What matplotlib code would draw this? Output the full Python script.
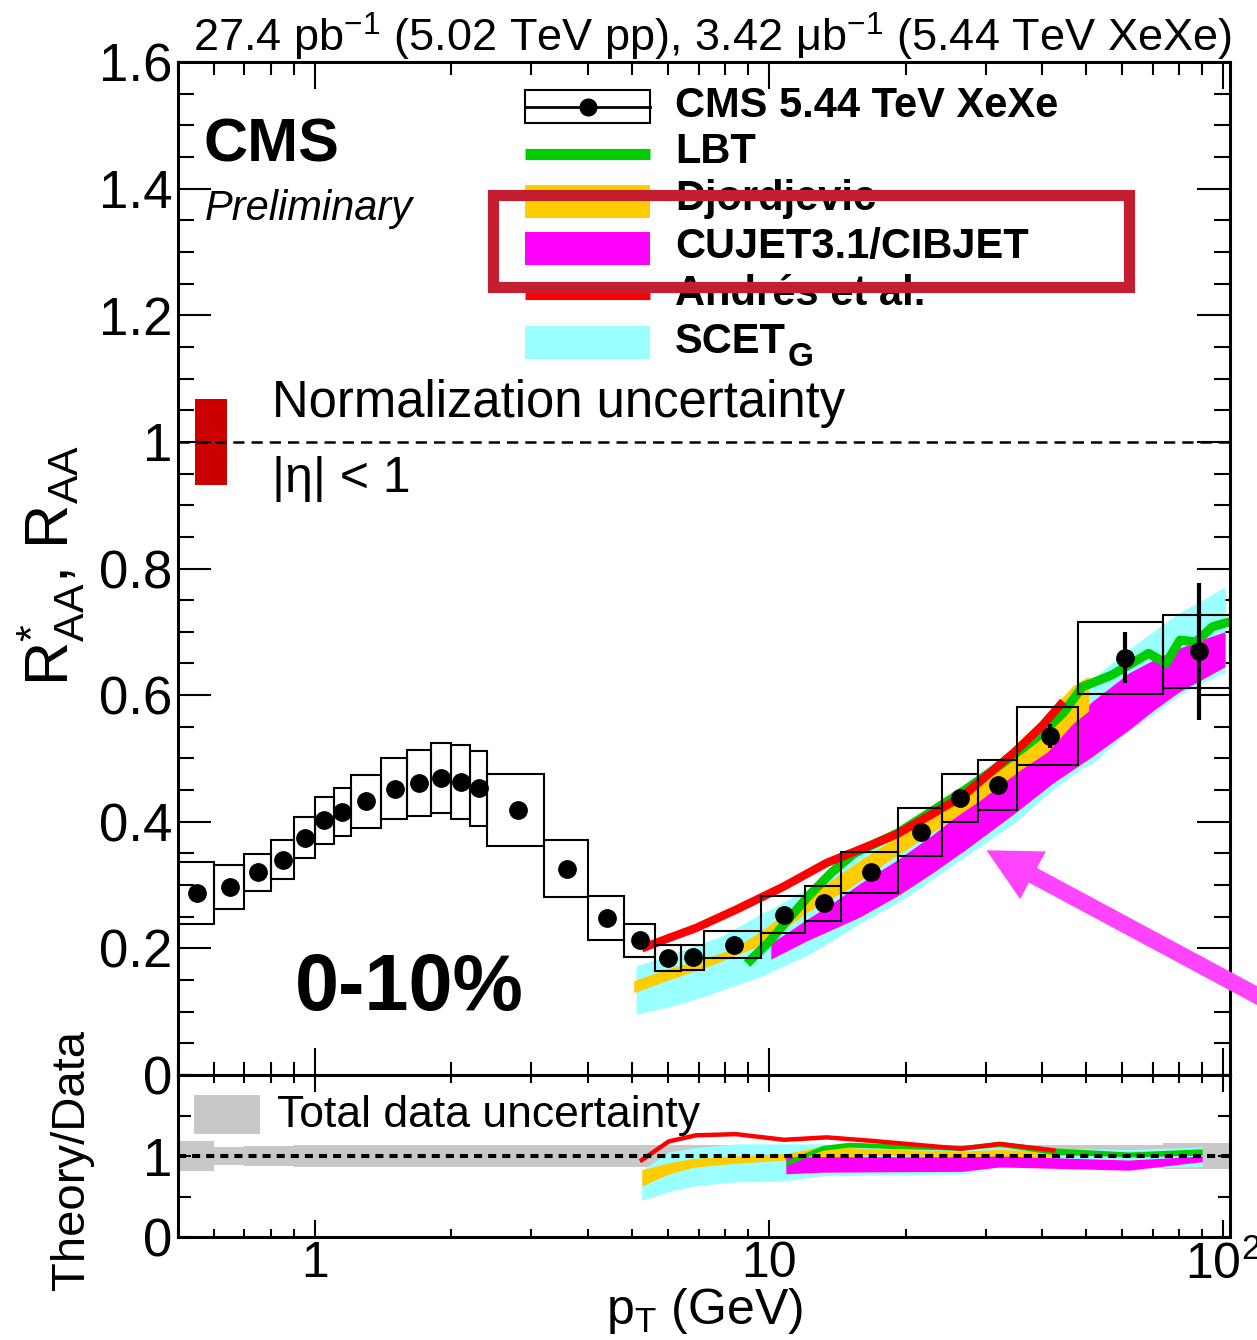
import matplotlib
matplotlib.use("Agg")
import matplotlib.pyplot as plt
from matplotlib.patches import Rectangle, FancyArrowPatch
from matplotlib.lines import Line2D
from matplotlib.ticker import FixedLocator, FixedFormatter, LogLocator, NullFormatter, MultipleLocator

plt.rcParams['font.family'] = ['Liberation Sans', 'DejaVu Sans']
plt.rcParams['mathtext.fontset'] = 'custom'
plt.rcParams['mathtext.rm'] = 'Liberation Sans'
plt.rcParams['mathtext.it'] = 'Liberation Sans:italic'
plt.rcParams['mathtext.bf'] = 'Liberation Sans:bold'

W, H = 1257, 1340

# ---- CMS XeXe 0-10% data ----
pt_edges = [0.5, 0.6, 0.7, 0.8, 0.9, 1.0, 1.1, 1.2, 1.4, 1.6, 1.8, 2.0, 2.2, 2.4, 3.2,
            4.0, 4.8, 5.6, 6.4, 7.2, 9.6, 12.0, 14.4, 19.2, 24.0, 28.8, 35.2, 48.0, 73.6, 103.6]
raa = [0.287, 0.297, 0.320, 0.340, 0.375, 0.402, 0.415, 0.432, 0.452, 0.461, 0.469, 0.463,
       0.453, 0.419, 0.326, 0.248, 0.213, 0.185, 0.186, 0.206, 0.253, 0.271, 0.320, 0.384,
       0.437, 0.458, 0.536, 0.659, 0.669]
syst = [0.049, 0.035, 0.029, 0.031, 0.033, 0.037, 0.038, 0.042, 0.048, 0.052, 0.055, 0.058,
        0.059, 0.057, 0.045, 0.034, 0.026, 0.021, 0.020, 0.021, 0.029, 0.027, 0.032, 0.038,
        0.038, 0.040, 0.046, 0.057, 0.058]
stat = [0.002] * 26 + [0.019, 0.040, 0.108]
tot_unc = [0.18, 0.115, 0.12, 0.125, 0.13, 0.13, 0.13, 0.135, 0.135, 0.14, 0.14, 0.14, 0.14,
           0.14, 0.14, 0.14, 0.14, 0.14, 0.14, 0.14, 0.14, 0.14, 0.14, 0.14, 0.14, 0.14, 0.14,
           0.14, 0.155]
norm_unc = 0.068

# ---- theory, main panel ----
lbt_pt = [8.95, 10.0, 12.2, 13.7, 15.4, 19.2, 23.0, 27.0, 31.0, 35.3, 40.0, 44.5, 49.0,
          57.0, 68.6, 74.9, 80.4, 87.1, 94.8, 103.6]
lbt_r = [0.176, 0.210, 0.282, 0.319, 0.350, 0.382, 0.418, 0.450, 0.480, 0.510, 0.540, 0.572,
         0.613, 0.632, 0.666, 0.650, 0.687, 0.684, 0.708, 0.716]

dj_pt = [5.04, 6.0, 7.2, 8.4, 9.8, 12.2, 15.2, 18.5, 22.8, 29.2, 35.8, 41.0, 46.7, 50.6]
dj_lo = [0.130, 0.150, 0.169, 0.188, 0.208, 0.258, 0.297, 0.340, 0.382, 0.434, 0.482, 0.510, 0.555, 0.575]
dj_hi = [0.149, 0.168, 0.184, 0.200, 0.232, 0.282, 0.330, 0.370, 0.410, 0.470, 0.530, 0.570, 0.615, 0.630]

cu_pt = [10.1, 12.2, 13.7, 15.9, 19.2, 23.0, 27.0, 35.0, 42.0, 51.5, 62.0, 70.0, 80.0, 90.0, 101.0]
cu_lo = [0.183, 0.213, 0.229, 0.250, 0.283, 0.320, 0.355, 0.415, 0.460, 0.503, 0.545, 0.575, 0.605, 0.625, 0.645]
cu_hi = [0.208, 0.247, 0.270, 0.303, 0.340, 0.380, 0.420, 0.480, 0.530, 0.590, 0.635, 0.655, 0.674, 0.688, 0.700]

an_pt = [5.25, 6.0, 6.9, 8.46, 10.8, 13.4, 16.6, 19.2, 23.0, 27.0, 31.0, 35.0, 40.0, 44.5]
an_r = [0.200, 0.216, 0.232, 0.261, 0.298, 0.335, 0.362, 0.381, 0.413, 0.443, 0.480, 0.512, 0.552, 0.590]

sc_pt = [5.1, 6.06, 7.2, 7.8, 9.8, 10.1, 12.2, 13.7, 15.9, 20.0, 27.0, 35.0, 42.0, 49.0,
         51.5, 60.0, 70.0, 80.0, 90.0, 101.0]
sc_lo = [0.096, 0.108, 0.124, 0.133, 0.158, 0.163, 0.190, 0.211, 0.240, 0.280, 0.345, 0.400,
         0.450, 0.485, 0.492, 0.535, 0.570, 0.600, 0.620, 0.635]
sc_hi = [0.172, 0.190, 0.210, 0.218, 0.258, 0.262, 0.295, 0.320, 0.350, 0.390, 0.460, 0.520,
         0.570, 0.613, 0.625, 0.665, 0.700, 0.730, 0.750, 0.771]

# ---- theory / data ratios ----
an_rat_pt = [5.25, 6.02, 6.9, 8.46, 10.8, 13.4, 16.6, 21.0, 26.5, 32.2, 42.3]
an_rat = [0.95, 1.18, 1.255, 1.27, 1.20, 1.23, 1.19, 1.14, 1.09, 1.15, 1.07]

lbt_rat_pt = [10.9, 13.1, 15.0, 19.4, 26.5, 32.2, 42.3, 62.0, 75.0, 90.0]
lbt_rat_lo = [0.88, 1.07, 1.11, 1.09, 1.07, 1.12, 1.02, 0.99, 1.00, 1.01]
lbt_rat_hi = [0.94, 1.13, 1.17, 1.15, 1.13, 1.18, 1.10, 1.05, 1.07, 1.09]

dj_rat_pt = [5.25, 6.0, 6.8, 8.4, 10.9, 13.1, 16.9, 26.5, 32.2, 42.3]
dj_rat_lo = [0.63, 0.775, 0.86, 0.91, 0.95, 0.97, 1.01, 0.99, 0.99, 0.99]
dj_rat_hi = [0.83, 0.915, 0.97, 1.00, 1.03, 1.12, 1.09, 1.06, 1.08, 1.06]

cu_rat_pt = [10.9, 13.1, 26.5, 32.2, 62.0, 90.0]
cu_rat_lo = [0.78, 0.80, 0.81, 0.865, 0.825, 0.93]
cu_rat_hi = [0.99, 0.99, 0.99, 1.00, 0.95, 1.00]

sc_rat_pt = [5.25, 6.02, 6.8, 8.46, 10.8, 13.1, 26.5, 32.2, 62.0, 90.0]
sc_rat_lo = [0.455, 0.56, 0.63, 0.68, 0.69, 0.755, 0.78, 0.865, 0.85, 0.87]
sc_rat_hi = [0.82, 1.05, 1.10, 1.15, 1.15, 1.15, 1.10, 1.10, 1.08, 1.11]

c_green = '#00cc00'
c_orange = '#ffcc00'
c_mag = '#ff00ff'
c_red = '#ff0000'
c_cyan = '#99ffff'


def fx(px):
    return px / W


def fy(py):
    return 1 - py / H


fig = plt.figure(figsize=(W / 100, H / 100), dpi=100)
ax = fig.add_axes([fx(178), fy(1075), (1230 - 178) / W, (1075 - 62) / H])
ax2 = fig.add_axes([fx(178), fy(1237), (1230 - 178) / W, (1237 - 1075) / H])

pt_mid = [(a + b) / 2 for a, b in zip(pt_edges[:-1], pt_edges[1:])]

# main panel
ax.fill_between(sc_pt, sc_lo, sc_hi, color=c_cyan, lw=0, zorder=2)
ax.fill_between(cu_pt, cu_lo, cu_hi, color=c_mag, lw=0, zorder=2.1)
ax.fill_between(dj_pt, dj_lo, dj_hi, color=c_orange, lw=0, zorder=2.2)
ax.plot(lbt_pt, lbt_r, color=c_green, lw=6.5, zorder=2.3, solid_capstyle='butt')
ax.plot(an_pt, an_r, color=c_red, lw=6, zorder=2.4, solid_capstyle='butt')

for i in range(len(raa)):
    lo, hi = pt_edges[i], pt_edges[i + 1]
    ax.add_patch(Rectangle((lo, raa[i] - syst[i]), hi - lo, 2 * syst[i],
                           fill=False, ec='black', lw=1.5, zorder=3))
ax.errorbar(pt_mid, raa, yerr=stat, fmt='o', color='black', ms=12.5,
            elinewidth=3, capsize=0, zorder=4)

ax.add_patch(Rectangle((0.545, 1 - norm_unc), 0.095, 2 * norm_unc, fc='#cc0000', ec='none', zorder=1.5))
ax.axhline(1, color='black', lw=1.8, ls=(0, (4.5, 2.8)), zorder=3.5)

ax.set_xscale('log')
ax.set_xlim(0.5, 103.6)
ax.set_ylim(0, 1.6)
ax.yaxis.set_major_locator(FixedLocator([0, 0.2, 0.4, 0.6, 0.8, 1.0, 1.2, 1.4, 1.6]))
ax.yaxis.set_major_formatter(FixedFormatter(["0", "0.2", "0.4", "0.6", "0.8", "1", "1.2", "1.4", "1.6"]))
ax.yaxis.set_minor_locator(MultipleLocator(0.05))
ax.xaxis.set_major_locator(LogLocator(base=10))
ax.xaxis.set_minor_locator(LogLocator(base=10, subs=[2, 3, 4, 5, 6, 7, 8, 9]))
ax.xaxis.set_minor_formatter(NullFormatter())
ax.tick_params(which='both', direction='in', top=True, right=True, width=1.5, labelbottom=False)
ax.tick_params(axis='y', which='major', length=24, labelsize=38, pad=4)
ax.tick_params(axis='y', which='minor', length=11.5)
ax.tick_params(axis='x', which='major', length=19.5)
ax.tick_params(axis='x', which='minor', length=9.5)
for s in ax.spines.values():
    s.set_linewidth(2.2)

# ratio panel
ax2.fill_between(pt_edges, [1 - u for u in tot_unc] + [1 - tot_unc[-1]],
                 [1 + u for u in tot_unc] + [1 + tot_unc[-1]], step='post',
                 color='#c8c8c8', lw=0, zorder=1)
ax2.fill_between(sc_rat_pt, sc_rat_lo, sc_rat_hi, color=c_cyan, lw=0, zorder=2)
ax2.fill_between(dj_rat_pt, dj_rat_lo, dj_rat_hi, color=c_orange, lw=0, zorder=2.1)
ax2.fill_between(cu_rat_pt, cu_rat_lo, cu_rat_hi, color=c_mag, lw=0, zorder=2.2)
ax2.fill_between(lbt_rat_pt, lbt_rat_lo, lbt_rat_hi, color=c_green, lw=0, zorder=2.3)
ax2.plot(an_rat_pt, an_rat, color=c_red, lw=3.2, zorder=2.4)
ax2.axhline(1, color='black', lw=2.9, ls=(0, (2, 1.5)), zorder=3)

ax2.set_xscale('log')
ax2.set_xlim(0.5, 103.6)
ax2.set_ylim(0, 2)
ax2.yaxis.set_major_locator(FixedLocator([0, 0.5, 1, 1.5, 2]))
ax2.yaxis.set_major_formatter(FixedFormatter(["0", "", "1", "", ""]))
ax2.xaxis.set_major_locator(FixedLocator([1, 10, 100]))
ax2.xaxis.set_major_formatter(FixedFormatter(["1", "10", r"10$^{2}$"]))
ax2.xaxis.set_minor_locator(LogLocator(base=10, subs=[2, 3, 4, 5, 6, 7, 8, 9]))
ax2.xaxis.set_minor_formatter(NullFormatter())
ax2.tick_params(which='both', direction='in', top=True, right=True, width=1.5)
ax2.tick_params(axis='y', which='major', length=9, labelsize=38, pad=4)
ax2.tick_params(axis='x', which='major', length=12, labelsize=36, pad=3)
ax2.tick_params(axis='x', which='minor', length=6)
for s in ax2.spines.values():
    s.set_linewidth(2.2)

# axis titles
fig.text(fx(51), fy(565), r"R$^{*}_{\rm AA}$, R$_{\rm AA}$", fontsize=44, rotation=90,
         ha='center', va='center')
fig.text(fx(72), fy(1160), "Theory/Data", fontsize=34, rotation=90, ha='center', va='center')
fig.text(fx(705), fy(1311), r"p$_{\rm T}$ (GeV)", fontsize=36, ha='center', va='center')
fig.text(fx(1232), fy(52), r"27.4 pb$^{-1}$ (5.02 TeV pp), 3.42 μb$^{-1}$ (5.44 TeV XeXe)",
         fontsize=32.5, ha='right', va='baseline')

# labels inside the plot
fig.text(fx(203), fy(162), "CMS", fontsize=44, fontweight='bold', va='baseline')
fig.text(fx(205), fy(220), "Preliminary", fontsize=30, fontstyle='italic', va='baseline')
fig.text(fx(272), fy(417), "Normalization uncertainty", fontsize=36.6, va='baseline')
fig.text(fx(272), fy(492), "|η| < 1", fontsize=36, va='baseline')
fig.text(fx(295), fy(1010), "0-10%", fontsize=57, fontweight='bold', va='baseline')

# legend
fig.add_artist(Rectangle((fx(525), fy(123)), 125 / W, 33 / H, fill=False, ec='black', lw=1.5,
                         transform=fig.transFigure))
fig.add_artist(Line2D([fx(525), fx(650)], [fy(106.5)] * 2, color='black', lw=2,
                      transform=fig.transFigure))
fig.add_artist(Line2D([fx(587.5)], [fy(106.5)], marker='o', ms=12, color='black',
                      transform=fig.transFigure))
fig.add_artist(Line2D([fx(525), fx(650)], [fy(153.5)] * 2, color=c_green, lw=8,
                      solid_capstyle='butt', transform=fig.transFigure))
fig.add_artist(Rectangle((fx(525), fy(218)), 125 / W, 33 / H, fc=c_orange, ec='none',
                         transform=fig.transFigure))
fig.add_artist(Rectangle((fx(525), fy(265)), 125 / W, 33 / H, fc=c_mag, ec='none',
                         transform=fig.transFigure))
fig.add_artist(Line2D([fx(525), fx(650)], [fy(293.5)] * 2, color=c_red, lw=8,
                      solid_capstyle='butt', transform=fig.transFigure))
fig.add_artist(Rectangle((fx(525), fy(359)), 125 / W, 33 / H, fc=c_cyan, ec='none',
                         transform=fig.transFigure))

leg_labels = ["CMS 5.44 TeV XeXe", "LBT", "Djordjevic", "CUJET3.1/CIBJET", "Andrés et al.", "SCET"]
leg_base = [117, 163, 210, 258, 305, 353]
leg_texts = []
for lab, b in zip(leg_labels, leg_base):
    leg_texts.append(fig.text(fx(675), fy(b), lab, fontsize=30, fontweight='bold', va='baseline'))
# subscript G placed right after "SCET"
ax.annotate("G", xy=(1, 0), xycoords=leg_texts[-1], xytext=(1, -3), textcoords='offset points',
            fontsize=24, fontweight='bold', va='baseline', ha='left', annotation_clip=False)

# ratio legend
fig.add_artist(Rectangle((fx(194), fy(1134)), 66 / W, 39 / H, fc='#c8c8c8', ec='none',
                         transform=fig.transFigure))
fig.text(fx(277), fy(1127), "Total data uncertainty", fontsize=32, va='baseline')

# highlight box and arrow
fig.add_artist(Rectangle((fx(493), fy(287)), (1129 - 493) / W, (287 - 194.5) / H, fill=False,
                         ec='#c41e30', lw=8, transform=fig.transFigure, zorder=10))
fig.add_artist(FancyArrowPatch((fx(1310), fy(1024)), (fx(984), fy(849)),
                               transform=fig.transFigure,
                               arrowstyle='simple,head_length=1.9,head_width=1.95,tail_width=0.6',
                               mutation_scale=20, color='#ff44ff', lw=0, zorder=10))

fig.savefig("out.png", dpi=100)
